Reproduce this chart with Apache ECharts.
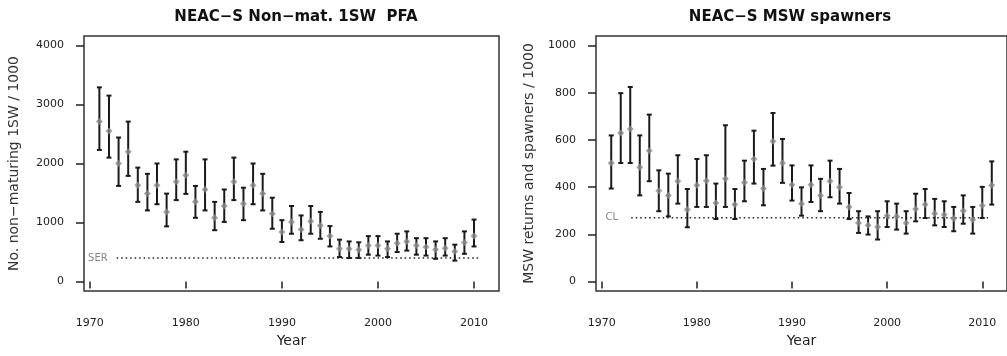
<!DOCTYPE html>
<html>
<head>
<meta charset="utf-8">
<script src="https://cdn.jsdelivr.net/npm/echarts@6/dist/echarts.min.js"></script>
<style>html,body{margin:0;padding:0;background:#fff;}#c{width:1007px;height:356px;}</style>
</head>
<body>
<div id="c"></div>
<script>
// ---- data ----
const titleLeft = 'NEAC−S Non−mat. 1SW  PFA';
const titleRight = 'NEAC−S MSW spawners';
const yNameLeft = 'No. non−maturing 1SW / 1000';
const yNameRight = 'MSW returns and spawners / 1000';
const xName = 'Year';
const xTicks = [1970, 1980, 1990, 2000, 2010];
const yTicksLeft = [0, 1000, 2000, 3000, 4000];
const yTicksRight = [0, 200, 400, 600, 800, 1000];

const yearsPFA = [1971,1972,1973,1974,1975,1976,1977,1978,1979,1980,1981,1982,1983,1984,1985,1986,1987,1988,1989,1990,1991,1992,1993,1994,1995,1996,1997,1998,1999,2000,2001,2002,2003,2004,2005,2006,2007,2008,2009,2010];
const pfaMid  = [2710,2550,2000,2200,1630,1490,1630,1180,1690,1800,1350,1560,1080,1280,1690,1320,1630,1490,1150,840,1010,880,1020,950,770,555,555,540,610,610,555,650,680,610,585,545,565,510,660,770];
const pfaHigh = [3290,3150,2440,2710,1930,1825,2000,1490,2070,2200,1620,2070,1350,1560,2100,1590,2000,1825,1420,1040,1280,1120,1280,1180,940,710,680,665,770,770,680,810,850,735,735,680,735,625,850,1050];
const pfaLow  = [2230,2100,1620,1790,1350,1205,1310,935,1380,1485,1080,1205,870,1010,1380,1040,1310,1205,895,670,810,700,810,725,595,415,400,400,455,440,415,500,525,455,440,385,440,355,470,595];

const yearsMSW = [1971,1972,1973,1974,1975,1976,1977,1978,1979,1980,1981,1982,1983,1984,1985,1986,1987,1988,1989,1990,1991,1992,1993,1994,1995,1996,1997,1998,1999,2000,2001,2002,2003,2004,2005,2006,2007,2008,2009,2010,2011];
const mswMid  = [502,629,646,484,554,385,365,425,305,408,427,333,435,326,420,519,394,594,502,410,330,410,365,425,399,316,248,238,231,279,276,248,307,326,288,283,267,300,262,322,408];
const mswHigh = [619,798,824,619,707,471,457,535,392,519,535,415,662,392,512,639,477,714,604,492,399,492,435,512,477,375,298,276,298,340,330,298,372,392,350,340,316,365,316,401,509];
const mswLow  = [394,502,502,365,425,298,276,330,230,316,316,265,316,265,340,415,323,491,418,343,279,337,298,357,330,265,206,199,178,231,220,203,255,269,238,231,213,245,203,269,326];

const serValue = 397;
const serLabel = 'SER';
const serSpan = [1972.8, 2010.6];
const clValue = 270;
const clLabel = 'CL';
const clSpan = [1973.1, 2010.6];
const labelYearSER = 1970.85;
const labelYearCL = 1971.05;

// ---- build ----
const chart = echarts.init(document.getElementById('c'), null, {renderer: 'canvas'});
const FONT = 'DejaVu Sans';
const TXT = '#222';
const plain = v => String(v);

function errItem(params, api) {
  const x = api.value(0), lo = api.value(1), hi = api.value(2);
  const a = api.coord([x, lo]), b = api.coord([x, hi]);
  const w = 2.5;
  const st = {stroke: '#1a1a1a', lineWidth: 2};
  return {type: 'group', children: [
    {type: 'line', shape: {x1: a[0], y1: a[1], x2: b[0], y2: b[1]}, style: st},
    {type: 'line', shape: {x1: a[0] - w, y1: a[1], x2: a[0] + w, y2: a[1]}, style: st},
    {type: 'line', shape: {x1: b[0] - w, y1: b[1], x2: b[0] + w, y2: b[1]}, style: st}
  ]};
}

function xAxisDef(gi) {
  return {
    type: 'value', gridIndex: gi, min: 1969.4, max: 2012.6,
    name: xName, nameLocation: 'middle', nameGap: 42,
    nameTextStyle: {fontFamily: FONT, fontSize: 14, color: TXT},
    axisLine: {show: false},
    axisTick: {show: true, inside: false, length: 7, customValues: xTicks, lineStyle: {color: '#222', width: 1.5}},
    axisLabel: {customValues: xTicks, formatter: plain, margin: 27, fontFamily: FONT, fontSize: 11, color: TXT},
    splitLine: {show: false}
  };
}
function yAxisDef(gi, mn, mx, ticks, nm, gap) {
  return {
    type: 'value', gridIndex: gi, min: mn, max: mx,
    name: nm, nameLocation: 'middle', nameGap: gap, nameRotate: 90,
    nameTextStyle: {fontFamily: FONT, fontSize: 14, color: '#333'},
    axisLine: {show: false},
    axisTick: {show: true, inside: false, length: 8, customValues: ticks, lineStyle: {color: '#222', width: 1.5}},
    axisLabel: {customValues: ticks, formatter: plain, margin: 20, fontFamily: FONT, fontSize: 11, color: TXT},
    splitLine: {show: false}
  };
}

function zip3(xs, a, b) { return xs.map((x, i) => [x, a[i], b[i]]); }
function zip2(xs, a) { return xs.map((x, i) => [x, a[i]]); }

const option = {
  backgroundColor: '#fff',
  animation: false,
  title: [
    {text: titleLeft, left: 291, top: 5, textAlign: 'center', textStyle: {fontFamily: FONT, fontSize: 15, fontWeight: 'bold', color: '#111'}},
    {text: titleRight, left: 785, top: 5, textAlign: 'center', textStyle: {fontFamily: FONT, fontSize: 15, fontWeight: 'bold', color: '#111'}}
  ],
  grid: [
    {left: 84, top: 36, width: 415, height: 255, show: true, borderColor: '#333', borderWidth: 1.5, backgroundColor: 'transparent'},
    {left: 596, top: 36, width: 415, height: 255, show: true, borderColor: '#333', borderWidth: 1.5, backgroundColor: 'transparent'}
  ],
  xAxis: [xAxisDef(0), xAxisDef(1)],
  yAxis: [
    yAxisDef(0, -160, 4160, yTicksLeft, yNameLeft, 63),
    yAxisDef(1, -40, 1040, yTicksRight, yNameRight, 60)
  ],
  series: [
    {type: 'line', xAxisIndex: 0, yAxisIndex: 0, symbol: 'none', silent: true,
     data: [[serSpan[0], serValue], [serSpan[1], serValue]],
     lineStyle: {color: '#222', width: 1.5, type: [1.5, 3]}},
    {type: 'line', xAxisIndex: 1, yAxisIndex: 1, symbol: 'none', silent: true,
     data: [[clSpan[0], clValue], [clSpan[1], clValue]],
     lineStyle: {color: '#222', width: 1.5, type: [1.5, 3]}},
    {type: 'scatter', xAxisIndex: 0, yAxisIndex: 0, symbolSize: 0, silent: true,
     data: [[labelYearSER, serValue]],
     label: {show: true, position: 'inside', formatter: serLabel, fontFamily: FONT, fontSize: 10, color: '#666'}},
    {type: 'scatter', xAxisIndex: 1, yAxisIndex: 1, symbolSize: 0, silent: true,
     data: [[labelYearCL, clValue]],
     label: {show: true, position: 'inside', formatter: clLabel, fontFamily: FONT, fontSize: 10, color: '#666'}},
    {type: 'custom', xAxisIndex: 0, yAxisIndex: 0, renderItem: errItem,
     encode: {x: 0, y: [1, 2]}, data: zip3(yearsPFA, pfaLow, pfaHigh), z: 3},
    {type: 'custom', xAxisIndex: 1, yAxisIndex: 1, renderItem: errItem,
     encode: {x: 0, y: [1, 2]}, data: zip3(yearsMSW, mswLow, mswHigh), z: 3},
    {type: 'scatter', xAxisIndex: 0, yAxisIndex: 0, symbol: 'diamond', symbolSize: 7,
     itemStyle: {color: '#8c8c8c'}, data: zip2(yearsPFA, pfaMid), z: 4},
    {type: 'scatter', xAxisIndex: 1, yAxisIndex: 1, symbol: 'diamond', symbolSize: 7,
     itemStyle: {color: '#8c8c8c'}, data: zip2(yearsMSW, mswMid), z: 4}
  ]
};
chart.setOption(option);
</script>
</body>
</html>
